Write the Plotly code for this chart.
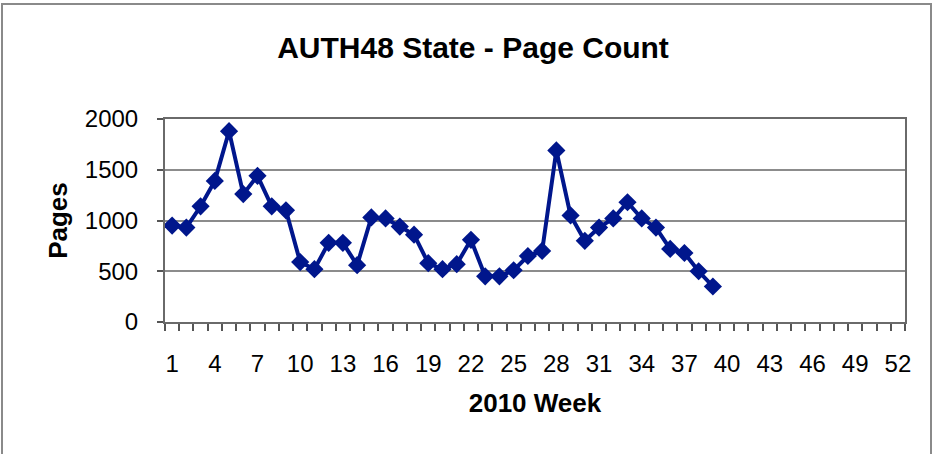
import plotly.graph_objects as go

weeks = list(range(1, 40))
pages = [950, 930, 1140, 1390, 1880, 1260, 1440, 1140, 1100, 590,
         520, 780, 780, 560, 1030, 1020, 940, 860, 580, 520,
         570, 810, 450, 450, 510, 650, 700, 1690, 1050, 800,
         930, 1020, 1180, 1020, 930, 720, 680, 500, 350]
x_tick_labels = list(range(1, 53, 3))
y_ticks = [0, 500, 1000, 1500, 2000]

navy = "#00168C"
W, H = 935, 454
L, R, T, B = 165, 30, 119, 132
pw, ph = W - L - R, H - T - B

def px_to_paper_x(px):
    return (px - L) / pw

def py_to_paper_y(py):
    return (H - B - py) / ph

fig = go.Figure()
fig.add_trace(go.Scatter(
    x=weeks, y=pages, mode="lines+markers",
    line=dict(color=navy, width=4),
    marker=dict(symbol="diamond", size=14, color=navy),
    showlegend=False, hoverinfo="x+y",
))

fig.update_layout(
    width=W, height=H,
    margin=dict(l=L, r=R, t=T, b=B),
    paper_bgcolor="white", plot_bgcolor="white",
    font=dict(family="Liberation Sans, Arial, sans-serif", color="black"),
    title=dict(text="<b>AUTH48 State - Page Count</b>", x=473 / W, xanchor="center",
               y=1 - 47 / H, yanchor="middle", font=dict(size=30)),
    shapes=[dict(type="rect", xref="paper", yref="paper",
                 x0=px_to_paper_x(2), x1=px_to_paper_x(931),
                 y0=py_to_paper_y(470), y1=py_to_paper_y(4),
                 line=dict(color="#8a8a8a", width=2), layer="below")],
)

fig.update_xaxes(
    range=[0.5, 52.5], tickmode="array", tickvals=x_tick_labels,
    ticktext=[str(v) for v in x_tick_labels], ticks="",
    tickfont=dict(size=24), ticklabelstandoff=19,
    showgrid=False, zeroline=False,
    showline=True, linecolor="#6a6a6a", linewidth=2, mirror=True,
    minor=dict(tickmode="linear", tick0=0.5, dtick=1, ticks="outside",
               ticklen=7, tickwidth=1.5, tickcolor="#555", showgrid=False),
    title=dict(text="<b>2010 Week</b>", font=dict(size=26), standoff=18),
)
fig.update_yaxes(
    range=[0, 2000], tickmode="array", tickvals=y_ticks,
    tickfont=dict(size=24), ticks="outside", ticklen=6, tickwidth=1.5,
    tickcolor="#555", ticklabelstandoff=14,
    showgrid=True, gridcolor="#8c8c8c", gridwidth=2, zeroline=False,
    showline=True, linecolor="#6a6a6a", linewidth=2, mirror=True,
    title=dict(text="<b>Pages</b>", font=dict(size=26), standoff=10),
)

fig.write_html("out.html", config={"displayModeBar": False},
               post_script="document.body.style.margin='0';")
